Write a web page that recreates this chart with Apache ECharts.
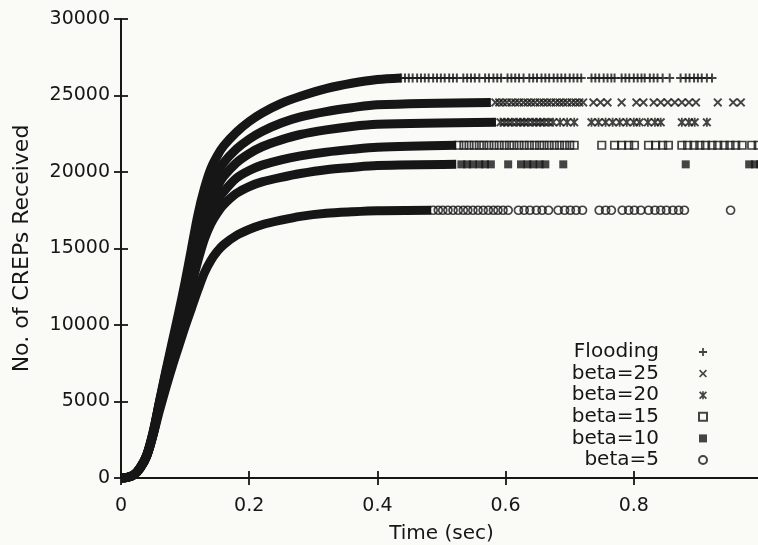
<!DOCTYPE html>
<html><head><meta charset="utf-8">
<script src="https://cdn.jsdelivr.net/npm/echarts@6/dist/echarts.min.js"></script>
<style>html,body{margin:0;padding:0;background:#fafaf7}#c{width:758px;height:545px}</style>
</head><body><div id="c"></div>
<script>
// ---------- data ----------
const seriesNames = ['Flooding', 'beta=25', 'beta=20', 'beta=15', 'beta=10', 'beta=5'];
const xTickValues = [0, 0.2, 0.4, 0.6, 0.8, 1];
const yTickValues = [0, 5000, 10000, 15000, 20000, 25000, 30000];

// times (sec) where the dense bands were read
const riseTime = [0, 0.01, 0.02, 0.03, 0.04, 0.05, 0.06, 0.07, 0.08, 0.09, 0.10, 0.11, 0.12, 0.13, 0.14, 0.15, 0.16, 0.18, 0.20, 0.22, 0.25, 0.28, 0.32, 0.36, 0.40];
const floodingRise = [0, 40, 200, 700, 1500, 3000, 5000, 7000, 8900, 10800, 12800, 15000, 17200, 18900, 20200, 21050, 21700, 22600, 23300, 23850, 24480, 24950, 25450, 25800, 26050];
const beta25Rise   = [0, 40, 200, 680, 1480, 2950, 4950, 6900, 8700, 10500, 12400, 14400, 16300, 17800, 19000, 19900, 20600, 21500, 22150, 22650, 23200, 23600, 23950, 24200, 24400];
const beta20Rise   = [0, 40, 200, 670, 1460, 2900, 4900, 6700, 8400, 10100, 11900, 13800, 15600, 17000, 18000, 19000, 19700, 20600, 21200, 21650, 22100, 22450, 22750, 22980, 23120];
const beta15Rise   = [0, 40, 200, 660, 1440, 2850, 4800, 6500, 8100, 9700, 11400, 13100, 14800, 16200, 17300, 18100, 18700, 19600, 20100, 20450, 20800, 21050, 21300, 21480, 21620];
const beta10Rise   = [0, 40, 200, 650, 1420, 2800, 4700, 6300, 7800, 9300, 10900, 12600, 14200, 15600, 16600, 17300, 17850, 18600, 19050, 19350, 19650, 19900, 20150, 20300, 20420];
const beta5Rise    = [0, 40, 200, 650, 1400, 2800, 4400, 5900, 7300, 8600, 9900, 11100, 12300, 13400, 14200, 14800, 15250, 15850, 16250, 16550, 16850, 17100, 17300, 17400, 17470];

// where each dense band stops, and the level every later point sits at
const bandEndTime  = [0.437, 0.577, 0.585, 0.523, 0.523, 0.484];
const plateauValue = [26150, 24550, 23250, 21750, 20500, 17500];

// times (sec) of the individual points after the dense band
const floodingMarks = [0.437,0.443,0.449,0.455,0.462,0.468,0.474,0.480,0.487,0.493,0.499,0.505,0.512,0.518,0.524,0.534,0.540,0.546,0.552,0.559,0.568,0.574,0.581,0.587,0.593,0.603,0.609,0.615,0.621,0.628,0.637,0.643,0.649,0.656,0.662,0.668,0.675,0.681,0.687,0.693,0.700,0.706,0.712,0.718,0.734,0.740,0.746,0.753,0.759,0.765,0.770,0.781,0.787,0.793,0.800,0.806,0.812,0.817,0.825,0.831,0.837,0.845,0.856,0.873,0.881,0.887,0.894,0.900,0.906,0.914,0.922];
const beta25Marks = [0.584,0.590,0.596,0.602,0.609,0.615,0.621,0.628,0.634,0.640,0.646,0.653,0.659,0.665,0.671,0.678,0.684,0.690,0.696,0.703,0.709,0.715,0.721,0.737,0.748,0.759,0.781,0.804,0.815,0.831,0.842,0.853,0.864,0.875,0.886,0.897,0.931,0.955,0.967];
const beta20Marks = [0.592,0.598,0.604,0.610,0.617,0.623,0.629,0.635,0.642,0.648,0.654,0.660,0.667,0.674,0.685,0.696,0.707,0.734,0.745,0.756,0.767,0.778,0.789,0.800,0.809,0.822,0.833,0.842,0.875,0.886,0.895,0.914];
const beta15Marks = [0.527,0.535,0.543,0.551,0.559,0.566,0.574,0.582,0.590,0.598,0.606,0.613,0.621,0.629,0.637,0.645,0.653,0.660,0.668,0.676,0.684,0.692,0.700,0.707,0.750,0.770,0.781,0.792,0.801,0.823,0.834,0.845,0.854,0.875,0.884,0.894,0.903,0.912,0.922,0.931,0.941,0.950,0.959,0.969,0.984,0.994];
const beta10Marks = [0.531,0.540,0.549,0.559,0.568,0.577,0.604,0.624,0.634,0.643,0.653,0.662,0.690,0.881,0.980,0.989,0.997];
const beta5Marks  = [0.487,0.495,0.502,0.510,0.518,0.526,0.534,0.541,0.549,0.557,0.565,0.573,0.581,0.588,0.596,0.604,0.620,0.629,0.638,0.648,0.657,0.667,0.682,0.692,0.701,0.710,0.720,0.746,0.756,0.765,0.782,0.792,0.801,0.811,0.823,0.833,0.842,0.851,0.861,0.870,0.879,0.951];

// ---------- styling ----------
const INK = '#161616';
const FONT = 'DejaVu Sans';
const PLUS  = 'path://M-1.1,-5L1.1,-5L1.1,-1.1L5,-1.1L5,1.1L1.1,1.1L1.1,5L-1.1,5L-1.1,1.1L-5,1.1L-5,-1.1L-1.1,-1.1Z';
const CROSS = 'path://M-5,-3.5L-3.5,-5L0,-1.5L3.5,-5L5,-3.5L1.5,0L5,3.5L3.5,5L0,1.5L-3.5,5L-5,3.5L-1.5,0Z';
const STAR  = 'path://M-5,-3.5L-3.5,-5L0,-1.5L3.5,-5L5,-3.5L1.5,0L5,3.5L3.5,5L0,1.5L-3.5,5L-5,3.5L-1.5,0ZM-1,-5L1,-5L1,5L-1,5Z';
const hollow = { color: 'rgba(0,0,0,0)', borderColor: INK, borderWidth: 1.7 };
const filled = { color: INK, borderWidth: 0 };
const markStyles = [
  { symbol: PLUS, symbolSize: 9, itemStyle: filled },
  { symbol: CROSS, symbolSize: 9, itemStyle: filled },
  { symbol: STAR, symbolSize: 9, itemStyle: filled },
  { symbol: 'rect', symbolSize: 7.5, itemStyle: hollow },
  { symbol: 'rect', symbolSize: 8, itemStyle: filled },
  { symbol: 'circle', symbolSize: 8, itemStyle: hollow }
];

const rises = [floodingRise, beta25Rise, beta20Rise, beta15Rise, beta10Rise, beta5Rise];
const marks = [floodingMarks, beta25Marks, beta20Marks, beta15Marks, beta10Marks, beta5Marks];

const series = [];
rises.forEach((rise, i) => {
  const data = riseTime.map((t, k) => [t, rise[k]]);
  data.push([bandEndTime[i], plateauValue[i]]);
  series.push({
    type: 'line', name: seriesNames[i] + ' band', data,
    smooth: 0.3, showSymbol: false, clip: false,
    lineStyle: { color: INK, width: 9, cap: 'butt', join: 'round' },
    silent: true, z: 2
  });
});
marks.forEach((m, i) => {
  series.push(Object.assign({
    type: 'scatter', name: seriesNames[i],
    data: m.map(t => [t, plateauValue[i]]),
    silent: true, z: 3
  }, markStyles[i]));
});

const axisLineStyle = { color: INK, width: 1.8 };
const xFmt = v => String(Math.round(v * 10) / 10);
const chart = echarts.init(document.getElementById('c'), null, { renderer: 'canvas' });
chart.setOption({
  backgroundColor: '#fafaf7',
  animation: false,
  grid: { left: 121, right: -4, top: 19, bottom: 67, containLabel: false, outerBoundsMode: 'none' },
  legend: {
    orient: 'vertical', right: 50, top: 342, align: 'right', padding: 0,
    itemWidth: 8, itemHeight: 8, itemGap: 1.6, selectedMode: false,
    textStyle: { fontFamily: FONT, fontSize: 20, color: INK, lineHeight: 20, padding: [0, 35, 0, 0] },
    data: seriesNames.slice()
  },
  xAxis: [{
    type: 'value', min: xTickValues[0], max: xTickValues[xTickValues.length - 1],
    interval: xTickValues[1] - xTickValues[0],
    name: 'Time (sec)', nameLocation: 'middle', nameGap: 46,
    nameTextStyle: { fontFamily: FONT, fontSize: 20, color: INK },
    axisLine: { lineStyle: axisLineStyle },
    axisTick: { inside: true, length: 7, lineStyle: axisLineStyle },
    axisLabel: { fontFamily: FONT, fontSize: 19, color: INK, margin: 19, formatter: xFmt },
    splitLine: { show: false }
  }, {
    type: 'value', position: 'top', min: xTickValues[0], max: xTickValues[xTickValues.length - 1],
    interval: xTickValues[1] - xTickValues[0],
    axisLine: { show: true, lineStyle: axisLineStyle },
    axisTick: { inside: true, length: 7, lineStyle: axisLineStyle },
    axisLabel: { show: false }, splitLine: { show: false }
  }],
  yAxis: [{
    type: 'value', min: yTickValues[0], max: yTickValues[yTickValues.length - 1],
    interval: yTickValues[1] - yTickValues[0],
    name: 'No. of CREPs Received', nameLocation: 'middle', nameGap: 88,
    nameTextStyle: { fontFamily: FONT, fontSize: 22, color: INK },
    axisLine: { show: true, lineStyle: axisLineStyle },
    axisTick: { show: true, inside: true, length: 7, lineStyle: axisLineStyle },
    axisLabel: { fontFamily: FONT, fontSize: 19, color: INK, margin: 11, formatter: v => String(v) },
    splitLine: { show: false }
  }, {
    type: 'value', position: 'right', min: yTickValues[0], max: yTickValues[yTickValues.length - 1],
    interval: yTickValues[1] - yTickValues[0],
    axisLine: { show: true, lineStyle: axisLineStyle },
    axisTick: { show: true, inside: true, length: 7, lineStyle: axisLineStyle },
    axisLabel: { show: false }, splitLine: { show: false }
  }],
  series
});
</script></body></html>
